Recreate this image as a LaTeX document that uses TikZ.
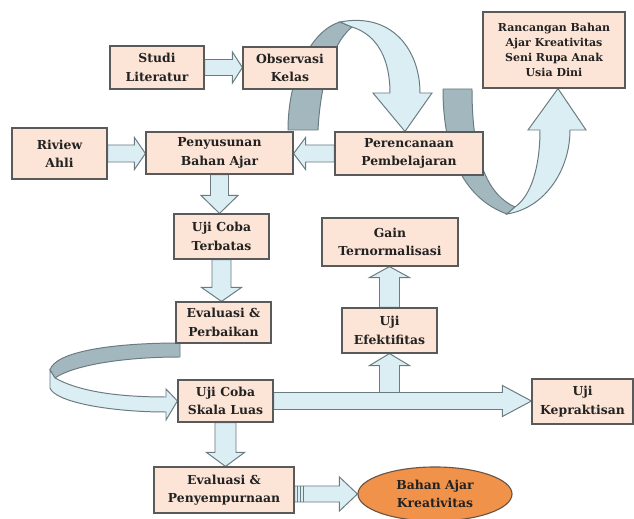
\documentclass[tikz,border=0pt]{standalone}
\usepackage{fontspec}
\setmainfont{DejaVu Serif}
\usetikzlibrary{calc,backgrounds,shapes.geometric}
\definecolor{boxfill}{HTML}{FCE4D6}
\definecolor{boxline}{HTML}{5A5A5A}
\definecolor{arrfill}{HTML}{DAEEF3}
\definecolor{arrline}{HTML}{6A7C82}
\definecolor{ribgrey}{HTML}{A3B7BE}
\definecolor{ellfill}{HTML}{F0924A}
\definecolor{ellline}{HTML}{6B5444}
\definecolor{txt}{HTML}{222222}
\def\px{0.7113pt}
% horizontal block arrow: #1 start, #2 tip, #3 shaft half, #4 head half, #5 head length (px)
\newcommand\harrow[5]{%
 \draw[barrow] let \p1=(#1), \p2=(#2), \n1={(\x2>\x1)?1:-1} in
  (\x1,{\y1+#3*\px}) -- ({\x2-\n1*#5*\px},{\y1+#3*\px}) -- ({\x2-\n1*#5*\px},{\y1+#4*\px})
  -- (\x2,\y1) -- ({\x2-\n1*#5*\px},{\y1-#4*\px}) -- ({\x2-\n1*#5*\px},{\y1-#3*\px})
  -- (\x1,{\y1-#3*\px}) -- cycle;}
% vertical block arrow
\newcommand\varrow[5]{%
 \draw[barrow] let \p1=(#1), \p2=(#2), \n1={(\y2>\y1)?1:-1} in
  ({\x1+#3*\px},\y1) -- ({\x1+#3*\px},{\y2-\n1*#5*\px}) -- ({\x1+#4*\px},{\y2-\n1*#5*\px})
  -- (\x1,\y2) -- ({\x1-#4*\px},{\y2-\n1*#5*\px}) -- ({\x1-#3*\px},{\y2-\n1*#5*\px})
  -- ({\x1-#3*\px},\y1) -- cycle;}
\begin{document}
\begin{tikzpicture}[x=0.025cm,y=-0.025cm,
 box/.style={draw=boxline, fill=boxfill, line width=0.8pt, align=center, inner sep=0pt,
   text=txt, font=\fontsize{8.8}{13}\selectfont\bfseries},
 barrow/.style={draw=arrline, fill=arrfill, line width=0.7pt, line join=miter},
 ribbon/.style={draw=arrline, fill=ribgrey, line width=0.7pt}]
\useasboundingbox (0,0) rectangle (634,519);

\node[box, minimum width=2.35cm, minimum height=1.075cm] (stud) at (157,67.5) {Studi\\Literatur};
\node[box, minimum width=2.35cm, minimum height=1.05cm] (obs) at (290,68) {Observasi\\Kelas};
\node[box, minimum width=2.375cm, minimum height=1.275cm] (riv) at (59.5,153.5) {Riview\\Ahli};
\node[box, minimum width=3.675cm, minimum height=1.05cm] (pen) at (219.5,153) {Penyusunan\\Bahan Ajar};
\node[box, minimum width=3.7cm, minimum height=1.075cm] (per) at (409,153.5) {Perencanaan\\Pembelajaran};
\node[box, minimum width=3.55cm, minimum height=1.9cm, font=\fontsize{7.8}{10.6}\selectfont\bfseries] (ran) at (554,50) {Rancangan Bahan\\Ajar Kreativitas\\Seni Rupa Anak\\Usia Dini};
\node[box, minimum width=2.375cm, minimum height=1.125cm] (ujt) at (221.5,236.5) {Uji Coba\\Terbatas};
\node[box, minimum width=2.375cm, minimum height=1.025cm] (evp) at (223.5,322.5) {Evaluasi \&\\Perbaikan};
\node[box, minimum width=2.375cm, minimum height=1.05cm] (usl) at (225.5,401) {Uji Coba\\Skala Luas};
\node[box, minimum width=2.525cm, minimum height=1.125cm] (kep) at (582.5,401.5) {Uji\\Kepraktisan};
\node[box, minimum width=3.5cm, minimum height=1.15cm] (evs) at (224,490) {Evaluasi \&\\Penyempurnaan};
\node[box, ellipse, fill=ellfill, draw=ellline, minimum width=3.85cm, minimum height=1.35cm] (ell) at (435,494) {Bahan Ajar\\Kreativitas};
\node[box, minimum width=3.4cm, minimum height=1.2cm] (gain) at (390,242) {Gain\\Ternormalisasi};
\node[box, minimum width=2.375cm, minimum height=1.125cm] (uje) at (389.5,330.5) {Uji\\Efektifitas};
\coordinate (branch) at (uje.south |- usl.east);

\begin{pgfonlayer}{background}
\fill[white] (0,0) rectangle (634,519);
% top arc ribbon: Observasi -> Perencanaan
\draw[ribbon] (288,130) -- (318,130) .. controls (320,90) and (330,45) .. (352,27)
  -- (340,22) .. controls (312,30) and (288,75) .. (288,130) -- cycle;
\draw[barrow] (340,22) .. controls (392,12) and (420,50) .. (420,93) -- (432,93) -- ($(per.north)+(-4,0)$)
  -- (373,93) -- (390,93) .. controls (390,60) and (378,35) .. (352,27) -- cycle;
% right ribbon: Perencanaan -> Rancangan
\draw[ribbon] (443,89) -- (472,89) .. controls (472,160) and (488,195) .. (515,207)
  -- (507,214) .. controls (468,200) and (443,160) .. (443,89) -- cycle;
\draw[barrow] (507,214) .. controls (545,208) and (570,170) .. (570,130) -- (586,130)
  -- ($(ran.south)+(4,0)$) -- (528,130) -- (540,130) .. controls (540,165) and (532,195) .. (515,207) -- cycle;
% lower-left ribbon: Evaluasi & Perbaikan -> Uji Coba Skala Luas
\draw[ribbon] (180,343) .. controls (110,343) and (55,352) .. (50,370)
  -- (55,378) .. controls (72,366) and (120,357) .. (180,357) -- cycle;
\draw[barrow] (50,370) -- (55,378) .. controls (80,392) and (120,397) .. (166,397) -- (166,389)
  -- (usl.west) -- (166,420) -- (166,412) .. controls (110,412) and (55,402) .. (50,388) -- cycle;
% straight block arrows
\harrow{stud.east}{obs.west}{8}{15.5}{10}
\harrow{riv.east}{pen.west}{8.5}{16}{11}
\harrow{per.west}{pen.east}{8.5}{16}{12}
\varrow{pen.south}{ujt.north}{9}{18.5}{18}
\varrow{ujt.south}{evp.north}{9.5}{20}{14}
\varrow{usl.south}{evs.north}{10.5}{19}{14}
\varrow{branch}{uje.south}{10}{20}{12}
\harrow{usl.east}{kep.west}{8.5}{15.5}{29}
\varrow{uje.north}{gain.south}{10}{20}{11}
\harrow{$(evs.east)+(0,4)$}{$(ell.west)+(0,0)$}{8}{17}{18}
\foreach \d in {3,6,9}
  \draw[arrline, line width=0.7pt] ($(evs.east)+(\d,-4)$) -- ($(evs.east)+(\d,12)$);
\end{pgfonlayer}
\end{tikzpicture}
\end{document}
